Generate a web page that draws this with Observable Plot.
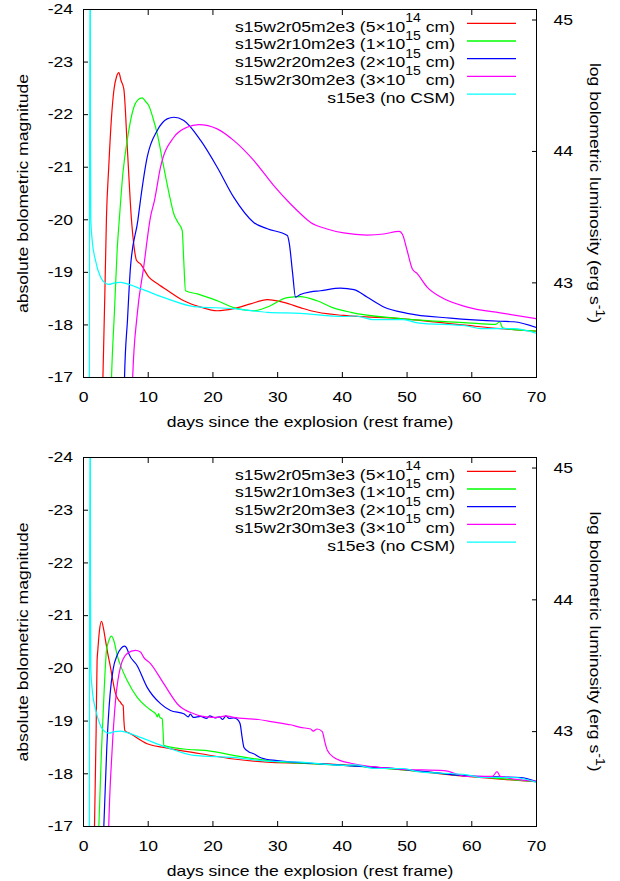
<!DOCTYPE html>
<html><head><meta charset="utf-8">
<script src="https://cdn.jsdelivr.net/npm/d3@7"></script>
<script src="https://cdn.jsdelivr.net/npm/@observablehq/plot@0.6"></script>
<style>body{margin:0;background:#fff;} #wrap{width:620px;} svg{display:block;}</style>
</head><body><div id="wrap"></div>
<script>
// ---- axes / labels ----
const xTicks = [0, 10, 20, 30, 40, 50, 60, 70];
const xTopTicks = [10, 20, 40, 60];
const magTicks = [-24, -23, -22, -21, -20, -19, -18, -17];
const lumTicks = [45, 44, 43];
const xLabel = "days since the explosion (rest frame)";
const yLabel = "absolute bolometric magnitude";
const y2Label = "log bolometric luminosity (erg s";
const y2Sup = "-1";
const colors = ["#ff0000", "#00ff00", "#0000ff", "#ff00ff", "#00ffff"];

// ---- legend texts ----
const topNames = ["s15w2r05m2e3", "s15w2r10m2e3", "s15w2r20m2e3", "s15w2r30m2e3", "s15e3"];
const botNames = ["s15w2r05m3e3", "s15w2r10m3e3", "s15w2r20m3e3", "s15w2r30m3e3", "s15e3"];
const radMant = ["5×10", "1×10", "2×10", "3×10", null];
const radExp = ["14", "15", "15", "15", null];

// ---- data: [days, absolute bolometric magnitude] ----
const topR05 = [[2.85,-16.2],[3.0,-17.0],[3.3,-18.6],[3.55,-20.05],[3.9,-21.0],[4.3,-21.9],[4.69,-22.46],[5.1,-22.72],[5.46,-22.8],[5.8,-22.65],[6.23,-22.49],[6.8,-21.3],[7.42,-19.99],[7.8,-19.5],[8.19,-19.23],[8.8,-19.16],[10.1,-18.91],[11.5,-18.78],[12.93,-18.66],[15.5,-18.46],[18.1,-18.34],[20.66,-18.27],[23.2,-18.31],[25.8,-18.4],[28.4,-18.48],[30.95,-18.43],[33.5,-18.33],[35.1,-18.27],[40.2,-18.18],[49,-18.12],[59.3,-17.99],[64.4,-17.93],[70,-17.88]];
const topR10 = [[4.15,-16.2],[4.33,-17.0],[4.8,-18.3],[5.2,-19.42],[5.56,-20.05],[6.1,-20.9],[6.75,-21.51],[7.78,-22.14],[8.4,-22.28],[9.07,-22.32],[9.6,-22.25],[10.1,-22.17],[10.7,-21.95],[11.39,-21.64],[12.4,-21.0],[13.45,-20.37],[13.96,-20.11],[14.6,-19.95],[15.25,-19.8],[15.5,-19.2],[15.76,-18.65],[17.6,-18.59],[20.66,-18.46],[23.75,-18.31],[26.3,-18.27],[28.4,-18.34],[31.5,-18.52],[33.5,-18.54],[36.1,-18.46],[38.5,-18.33],[41.3,-18.24],[49,-18.12],[59.3,-18.04],[63.7,-18.01],[64.3,-18.06],[64.8,-17.94],[70,-17.88]];
const topR20 = [[6.2,-16.2],[6.34,-17.0],[6.8,-18.1],[7.26,-19.1],[8.4,-19.99],[8.8,-20.37],[9.84,-21.19],[11.4,-21.7],[12.93,-21.92],[13.96,-21.95],[15.5,-21.89],[18.1,-21.51],[20.66,-21.0],[23.2,-20.43],[26.3,-19.95],[28.4,-19.83],[31.5,-19.7],[31.8,-19.55],[32.3,-19.0],[32.76,-18.53],[33.5,-18.58],[35.1,-18.63],[36.6,-18.65],[39.7,-18.7],[41.8,-18.67],[43.8,-18.53],[46.4,-18.34],[50,-18.22],[56.7,-18.13],[64.4,-18.07],[66.5,-18.06],[70,-17.95]];
const topR30 = [[7.45,-16.2],[7.6,-17.0],[8.3,-18.2],[9.3,-19.1],[10.35,-20.05],[10.97,-20.37],[11.9,-21.0],[13.96,-21.57],[16.0,-21.76],[17.8,-21.81],[20.66,-21.73],[23.2,-21.51],[26.3,-21.13],[29.4,-20.65],[32.0,-20.3],[33.5,-20.12],[35.1,-19.95],[37.5,-19.83],[40.2,-19.75],[43.8,-19.71],[46.4,-19.73],[48.8,-19.78],[49.3,-19.72],[50,-19.42],[50.8,-19.07],[51.6,-18.97],[53.1,-18.72],[55.2,-18.53],[59.3,-18.34],[64.4,-18.23],[70,-18.12]];
const noCSM = [[0.9,-16.2],[1.0,-25.5],[1.05,-25.5],[1.08,-21.5],[1.13,-20.0],[1.34,-19.61],[1.85,-19.23],[2.63,-18.91],[3.3,-18.8],[3.9,-18.77],[4.8,-18.8],[5.7,-18.81],[6.75,-18.78],[8.8,-18.69],[12.9,-18.5],[17.05,-18.35],[23.2,-18.31],[28.4,-18.24],[33.5,-18.22],[40.2,-18.16],[42,-18.17],[44.9,-18.1],[49.5,-18.1],[51.6,-18.04],[59.3,-17.98],[61.4,-17.93],[66.5,-17.93],[70,-17.84]];

const botR05 = [[1.55,-16.2],[1.7,-17.0],[1.95,-18.8],[2.1,-20.15],[2.21,-20.34],[2.45,-20.7],[2.78,-20.89],[3.1,-20.75],[3.4,-20.53],[3.8,-20.25],[4.17,-20.02],[4.95,-19.52],[5.46,-19.39],[5.7,-19.36],[5.9,-19.32],[6.13,-19.29],[6.25,-19.0],[6.39,-18.82],[7.26,-18.76],[9.84,-18.57],[12.4,-18.5],[18.1,-18.38],[23.2,-18.28],[28.4,-18.22],[33.5,-18.2],[40.2,-18.17],[49,-18.08],[59.3,-17.95],[70,-17.85]];
const botR10 = [[2.2,-16.2],[2.37,-17.0],[2.8,-18.5],[3.2,-19.6],[3.55,-20.34],[3.9,-20.52],[4.33,-20.61],[4.75,-20.5],[5.2,-20.25],[5.9,-20.0],[6.75,-19.77],[8.3,-19.45],[9.84,-19.26],[10.5,-19.2],[11.2,-19.13],[11.4,-19.08],[11.6,-19.14],[11.8,-19.07],[12.16,-19.04],[12.3,-18.8],[12.4,-18.54],[15.5,-18.47],[19.1,-18.44],[23.2,-18.35],[28.4,-18.25],[33.5,-18.2],[40.2,-18.16],[49,-18.08],[59.3,-17.96],[70,-17.85]];
const botR20 = [[2.95,-16.2],[3.14,-17.0],[3.6,-18.5],[4.1,-19.5],[4.6,-20.0],[5.2,-20.25],[5.8,-20.38],[6.34,-20.42],[6.8,-20.35],[7.0,-20.28],[8.3,-20.05],[9.84,-19.64],[11.9,-19.33],[13.45,-19.2],[15.5,-19.14],[16.2,-19.08],[16.5,-19.13],[17,-19.07],[18.1,-19.09],[19,-19.05],[19.5,-19.1],[20.3,-19.06],[21,-19.08],[21.5,-19.03],[22,-19.1],[22.5,-19.05],[23.2,-19.06],[23.8,-19.03],[24.2,-18.95],[24.5,-18.7],[24.8,-18.5],[25.5,-18.42],[26.3,-18.38],[27.5,-18.3],[29.9,-18.25],[35.1,-18.2],[40.2,-18.16],[49,-18.09],[59.3,-17.96],[64,-17.94],[67.5,-17.93],[70,-17.85]];
const botR30 = [[3.75,-16.2],[3.9,-17.0],[4.4,-18.4],[4.95,-19.39],[5.7,-20.02],[6.75,-20.28],[8.04,-20.34],[8.8,-20.31],[9.3,-20.21],[10.35,-20.09],[12.4,-19.71],[14.7,-19.3],[17.05,-19.14],[18,-19.1],[19,-19.08],[20.66,-19.07],[22,-19.1],[23.2,-19.07],[25.8,-19.04],[27,-19.03],[28.5,-19.0],[30.95,-18.95],[32,-18.93],[33.5,-18.88],[35.1,-18.85],[35.5,-18.81],[36.1,-18.85],[36.9,-18.8],[37.3,-18.6],[37.7,-18.44],[38.7,-18.31],[41.3,-18.2],[49,-18.09],[55.7,-18.06],[59.3,-17.95],[63.2,-17.95],[63.9,-18.04],[64.4,-17.95],[70,-17.86]];

// ---- conversions ----
const lumToMag = L => 88.70 - 2.5 * L;
const magToLum = M => (88.70 - M) / 2.5;

const FONT = "'Liberation Sans', Arial, Helvetica, sans-serif";
const SX = 1.17;

function panel(series, names, height, marginTop, marginBottom) {
  const marks = series.map((s, i) => Plot.line(s, {x: d => d[0], y: d => d[1], stroke: colors[i], strokeWidth: 1.2, curve: "monotone-x", clip: true}));
  marks.push(
    Plot.axisX({anchor: "bottom", ticks: xTicks, tickSize: -5, tickPadding: 19, tickFormat: d => String(d), label: null}),
    Plot.axisX({anchor: "top", ticks: xTopTicks, tickSize: -5, tickFormat: () => "", label: null}),
    Plot.axisY({anchor: "left", ticks: magTicks, tickSize: -5, tickPadding: 15.5, tickFormat: d => String(d), label: null}),
    Plot.axisY({anchor: "right", ticks: lumTicks.map(lumToMag), tickSize: -5, tickPadding: 22, tickFormat: m => String(Math.round(magToLum(m))), label: null}),
    Plot.frame({stroke: "black", strokeWidth: 1}),
    Plot.text([yLabel], {frameAnchor: "left", dx: -60, rotate: -90, textAnchor: "middle", lineAnchor: "middle", text: d => d}),
    Plot.text([xLabel], {frameAnchor: "bottom", dy: 45, textAnchor: "middle", lineAnchor: "middle", text: d => d})
  );
  const svg = Plot.plot({
    width: 620, height, marginLeft: 83, marginRight: 84, marginTop, marginBottom,
    style: {fontFamily: FONT, fontSize: "15px", background: "white", color: "black"},
    x: {domain: [0, 70]},
    y: {domain: [-17, -24]},
    marks
  });
  const [L, R] = svg.scale("x").range;
  const [B, T] = svg.scale("y").range;
  const g = d3.select(svg).append("g").attr("font-family", FONT).attr("font-size", 15).attr("fill", "black");
  names.forEach((n, i) => {
    const base = T + 22.7 + i * 17.7;
    const txt = g.append("text").attr("text-anchor", "end").attr("x", R - 81).attr("y", base);
    if (radExp[i]) {
      txt.append("tspan").text(n + " (" + radMant[i]);
      txt.append("tspan").attr("font-size", 12).attr("dy", -9.5).text(radExp[i]);
      txt.append("tspan").attr("dy", 9.5).text(" cm)");
    } else {
      txt.text(n + " (no CSM)");
    }
    g.append("line").attr("x1", R - 69).attr("x2", R - 20).attr("y1", base - 8.4).attr("y2", base - 8.4)
      .attr("stroke", colors[i]).attr("stroke-width", 1.3);
  });
  const rl = g.append("text").attr("text-anchor", "middle")
    .attr("transform", `translate(${R + 59},${(T + B) / 2}) rotate(90)`);
  rl.append("tspan").attr("dy", "0.32em").text(y2Label);
  rl.append("tspan").attr("font-size", 12).attr("dy", -6).text(y2Sup);
  rl.append("tspan").attr("dy", 6).text(")");
  return svg;
}

const wrap = document.getElementById("wrap");
const svgs = [
  panel([topR05, topR10, topR20, topR30, noCSM], topNames, 440, 9, 63),
  panel([botR05, botR10, botR20, botR30, noCSM], botNames, 441, 17, 55)
];
svgs.forEach(s => wrap.appendChild(s));
// horizontal stretch of all texts (the original figure's lettering is wider than the font)
svgs.forEach(s => s.querySelectorAll("text").forEach(t => {
  const len = t.getComputedTextLength();
  if (len > 0) {
    t.setAttribute("textLength", (len * SX).toFixed(2));
    t.setAttribute("lengthAdjust", "spacingAndGlyphs");
  }
}));
</script>
</body></html>
